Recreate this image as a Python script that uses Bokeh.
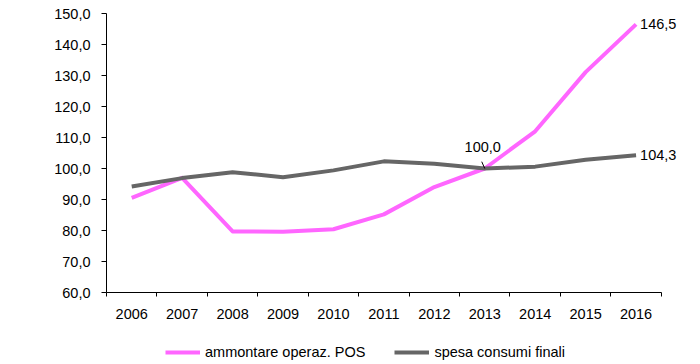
from bokeh.plotting import figure
from bokeh.layouts import column
from bokeh.models import (Range1d, FixedTicker, CustomJSTickFormatter, Legend, LegendItem,
                          Label, PrintfTickFormatter)
from bokeh.embed import file_html
from bokeh.resources import INLINE

years = [2006, 2007, 2008, 2009, 2010, 2011, 2012, 2013, 2014, 2015, 2016]
pos_values = [90.5, 97.0, 79.7, 79.6, 80.4, 85.2, 94.0, 100.0, 112.0, 131.1, 146.5]
spesa_values = [94.2, 96.9, 98.8, 97.2, 99.4, 102.3, 101.5, 100.0, 100.6, 102.8, 104.3]
y_ticks = [60, 70, 80, 90, 100, 110, 120, 130, 140, 150]
series_names = ["ammontare operaz. POS", "spesa consumi finali"]

PINK = "#FF66FF"
GREY = "#666666"
FONT = "Liberation Sans"
FS = "14.5px"
W = 692

x0, x1 = years[0] - 0.5, years[-1] + 0.5
p = figure(width=W, height=326, output_backend="svg", toolbar_location=None,
           x_range=Range1d(x0, x1 + 0.5),
           y_range=Range1d(y_ticks[0], y_ticks[-1]),
           min_border_left=106, min_border_right=6, min_border_top=13, min_border_bottom=34)
p.outline_line_color = None
p.grid.visible = False
p.background_fill_color = "white"
p.border_fill_color = "white"

# axes
p.yaxis.ticker = FixedTicker(ticks=y_ticks)
p.yaxis.formatter = CustomJSTickFormatter(code="return tick.toFixed(1).replace('.', ',');")
p.yaxis.major_tick_out = 5
p.yaxis.major_tick_in = 0
p.yaxis.minor_tick_line_color = None
p.yaxis.major_label_standoff = 11
p.yaxis.axis_line_color = "black"
p.yaxis.major_tick_line_color = "black"

boundaries = [y - 0.5 for y in years] + [x1]
p.xaxis.ticker = FixedTicker(ticks=years, minor_ticks=boundaries)
p.xaxis.bounds = (x0, x1)
p.xaxis.formatter = PrintfTickFormatter(format="%d")
p.xaxis.major_tick_line_color = None
p.xaxis.major_tick_out = 0
p.xaxis.major_tick_in = 0
p.xaxis.minor_tick_out = 4
p.xaxis.minor_tick_in = 0
p.xaxis.minor_tick_line_color = "black"
p.xaxis.major_label_standoff = 12
p.xaxis.axis_line_color = "black"

for ax in (p.xaxis, p.yaxis):
    ax.major_label_text_font = FONT
    ax.major_label_text_font_size = FS
    ax.major_label_text_color = "black"

p.line(years, pos_values, line_color=PINK, line_width=4, line_join="round")
p.line(years, spesa_values, line_color=GREY, line_width=4, line_join="round")

# leader line for 100,0 label
p.segment(x0=[years[7]], y0=[pos_values[7]], x1=[years[7] - 0.06], y1=[pos_values[7] + 2.2],
          line_color="black", line_width=1)

lab_kw = dict(text_font=FONT, text_font_size=FS, text_color="black")
p.add_layout(Label(x=years[-1], y=pos_values[-1], text="146,5", x_offset=4,
                   text_baseline="middle", text_align="left", **lab_kw))
p.add_layout(Label(x=years[-1], y=spesa_values[-1], text="104,3", x_offset=4,
                   text_baseline="middle", text_align="left", **lab_kw))
p.add_layout(Label(x=years[7], y=pos_values[7], text="100,0", x_offset=-2, y_offset=17,
                   text_baseline="bottom", text_align="center", **lab_kw))

# legend strip below the chart (its frame is aligned with the chart's frame)
lg = figure(width=W, height=36, output_backend="svg", toolbar_location=None,
            x_axis_type=None, y_axis_type=None, x_range=Range1d(0, 1), y_range=Range1d(0, 1),
            min_border_left=106, min_border_right=6, min_border_top=0, min_border_bottom=0)
lg.outline_line_color = None
lg.grid.visible = False
# same series, plotted outside this strip's visible range: only their legend swatches show
lr_pos = lg.line(years, pos_values, line_color=PINK, line_width=4)
lr_sp = lg.line(years, spesa_values, line_color=GREY, line_width=4)
legend = Legend(items=[LegendItem(label=series_names[0], renderers=[lr_pos]),
                       LegendItem(label=series_names[1], renderers=[lr_sp])],
                orientation="horizontal", location=(59, 2),
                glyph_width=35, glyph_height=14, label_standoff=5, spacing=29,
                padding=0, margin=0, border_line_color=None, background_fill_alpha=0,
                label_text_font=FONT, label_text_font_size=FS, label_text_color="black")
lg.add_layout(legend)

layout = column(p, lg, spacing=0)
open("out.html", "w").write(file_html(layout, INLINE))
